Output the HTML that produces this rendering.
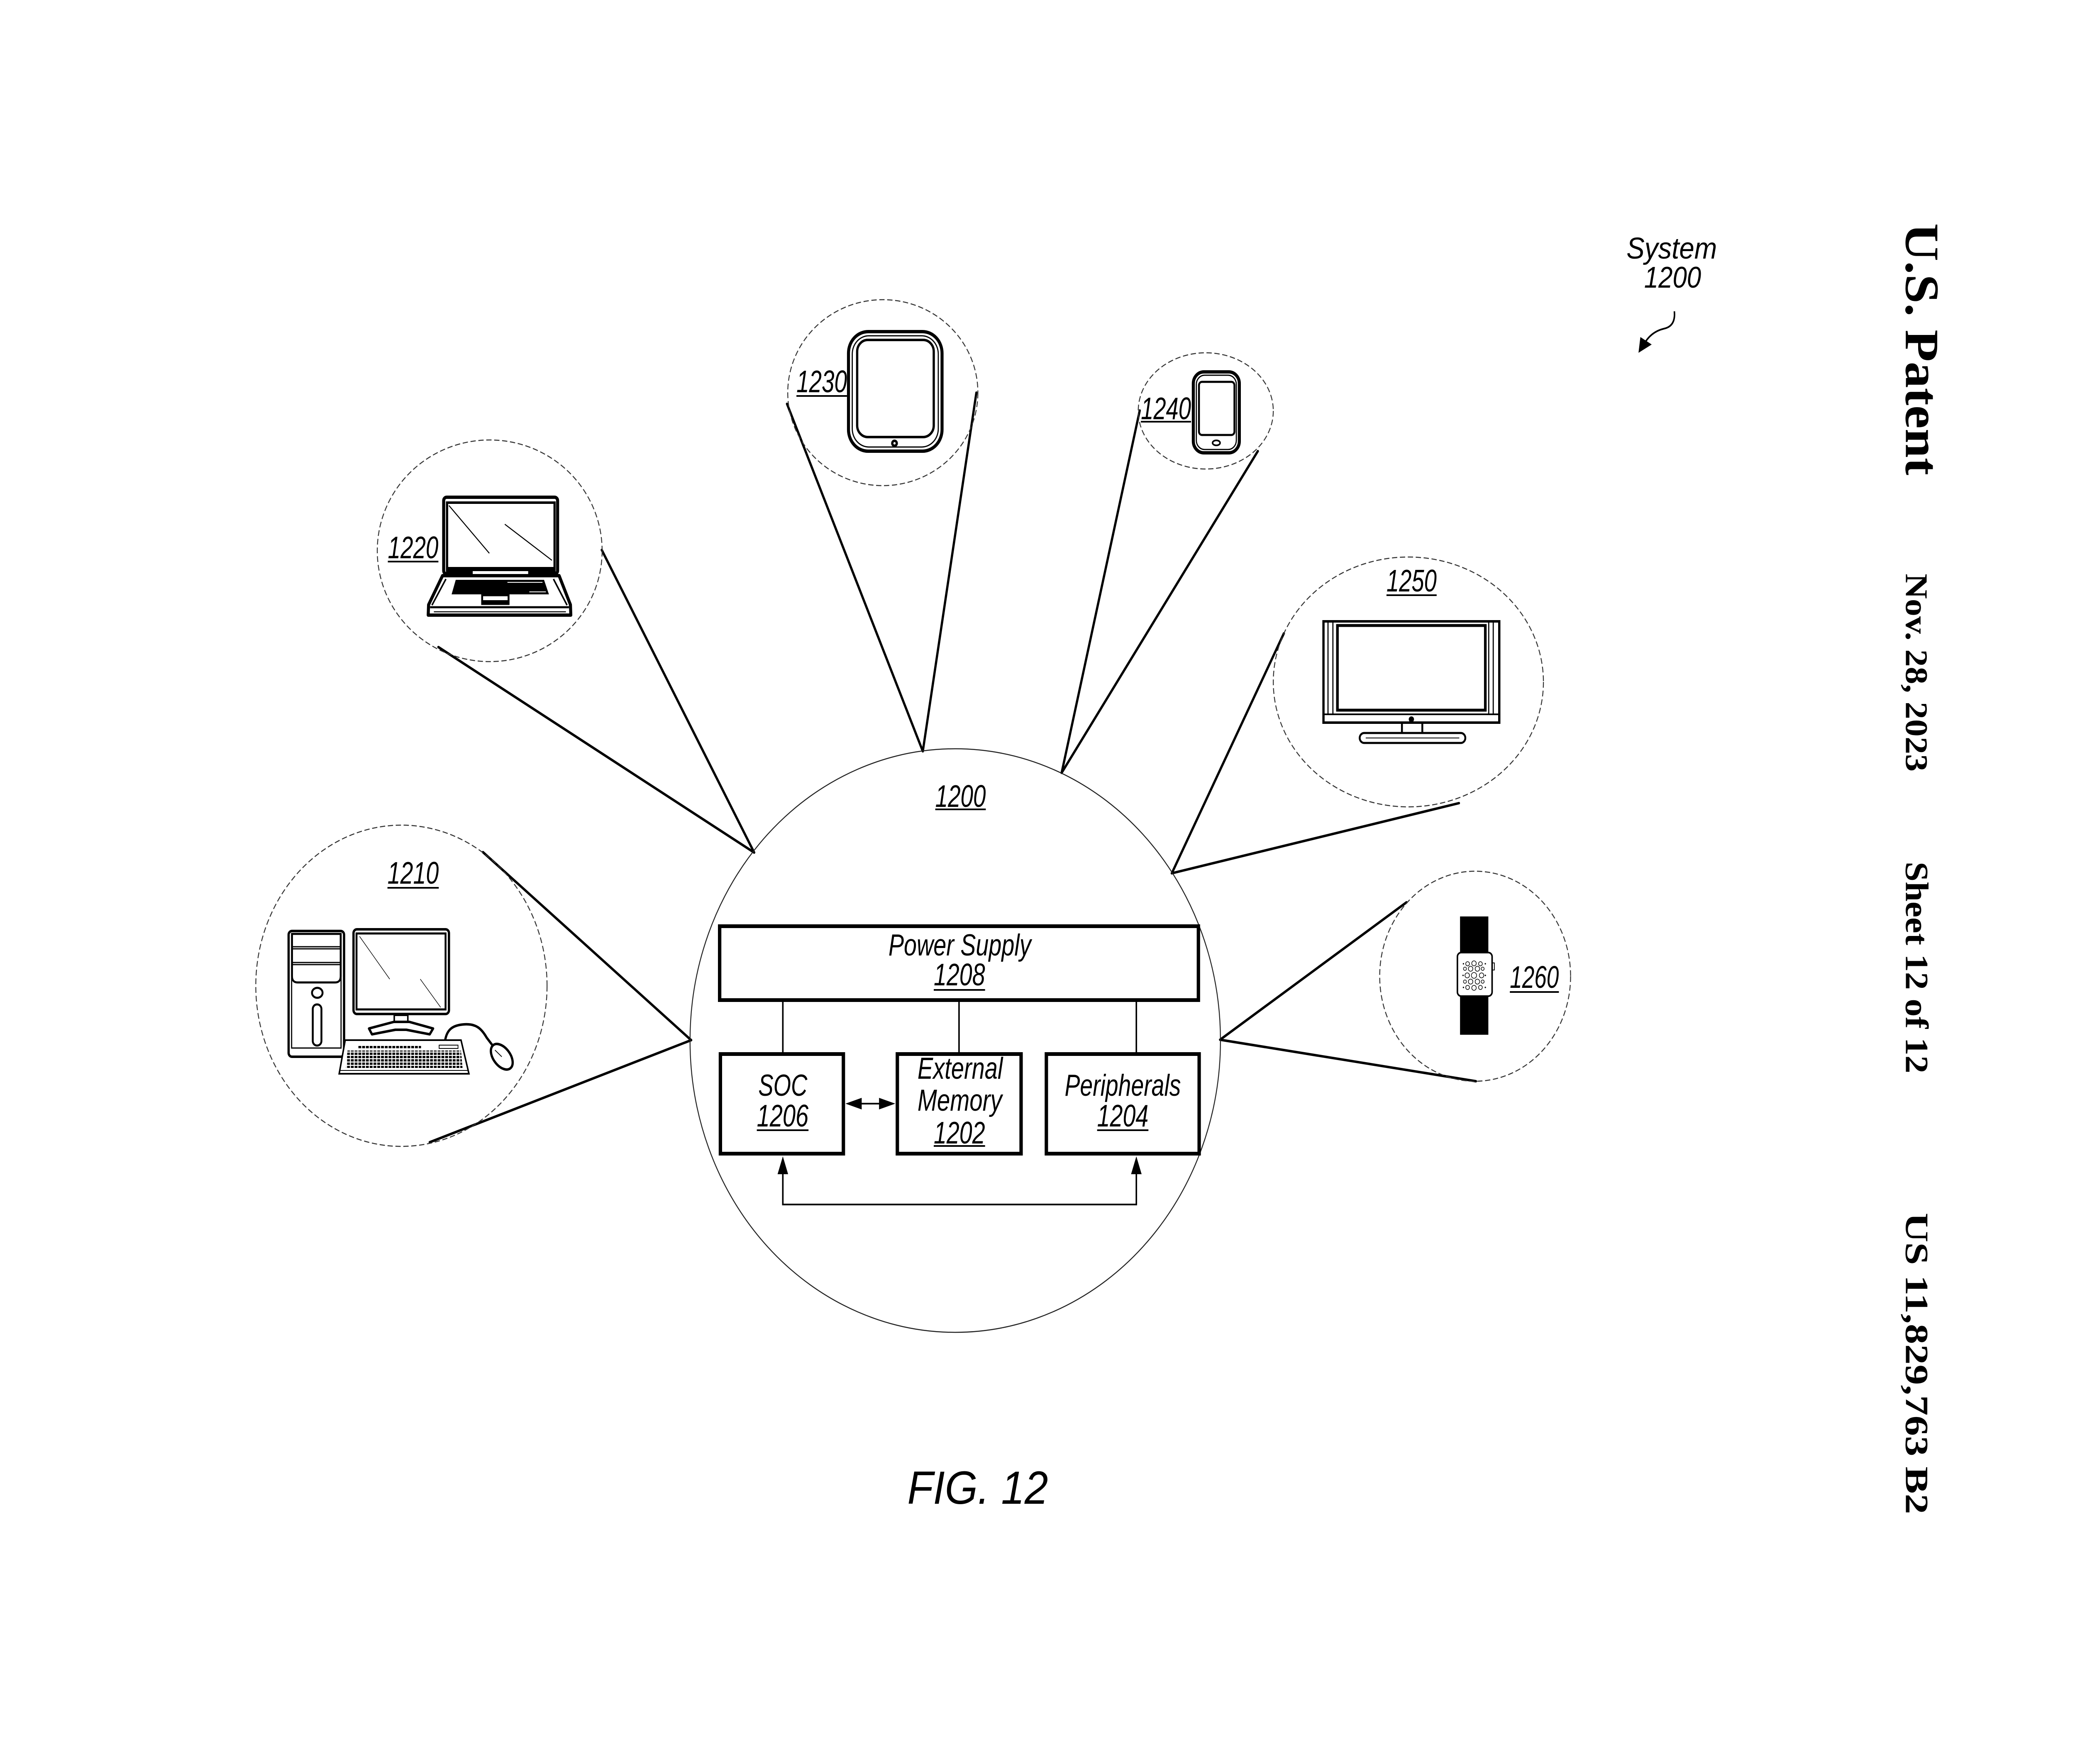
<!DOCTYPE html>
<html><head><meta charset="utf-8"><style>
html,body{margin:0;padding:0;background:#fff;width:100%;height:100%;overflow:hidden;}
svg{display:block;position:fixed;left:0;top:0;width:100%;height:100%;}
.l{font-family:"Liberation Sans",Arial,sans-serif;font-style:italic;fill:#000;}
.h{font-family:"Liberation Serif","Times New Roman",serif;font-weight:bold;fill:#000;}
</style></head><body>
<svg viewBox="0 0 5500 4250" preserveAspectRatio="none" xmlns="http://www.w3.org/2000/svg">
<defs>
<pattern id="keys" patternUnits="userSpaceOnUse" x="0" y="0" width="10" height="8">
<rect x="0" y="0" width="7.5" height="5.5" fill="#000"/>
</pattern>
</defs>
<rect width="5500" height="4250" fill="#fff"/>

<!-- Patent header (rotated) -->
<text class="h" font-size="127" transform="translate(5052,538) rotate(90)" textLength="607" lengthAdjust="spacingAndGlyphs">U.S. Patent</text>
<text class="h" font-size="84" transform="translate(5052,1382) rotate(90)" textLength="477" lengthAdjust="spacingAndGlyphs">Nov. 28, 2023</text>
<text class="h" font-size="86" transform="translate(5052,2076) rotate(90)" textLength="510" lengthAdjust="spacingAndGlyphs">Sheet 12 of 12</text>
<text class="h" font-size="86" transform="translate(5052,2922) rotate(90)" textLength="726" lengthAdjust="spacingAndGlyphs">US 11,829,763 B2</text>

<!-- System 1200 label -->
<text class="l" font-size="72" x="4311" y="623" textLength="240" lengthAdjust="spacingAndGlyphs">System</text>
<text class="l" font-size="72" x="4358" y="693" textLength="151" lengthAdjust="spacingAndGlyphs">1200</text>
<path d="M4438,750 Q4442,786 4410,792 Q4374,800 4356,832" fill="none" stroke="#000" stroke-width="4"/>
<polygon points="4343,850 4348,812 4378,830" fill="#000"/>

<!-- connector lines -->
<g stroke="#000" stroke-width="6" stroke-linecap="round">
<line x1="1280" y1="2053" x2="1832" y2="2506"/>
<line x1="1139" y1="2752" x2="1832" y2="2506"/>
<line x1="1595" y1="1325" x2="1999" y2="2054"/>
<line x1="1162" y1="1559" x2="1999" y2="2054"/>
<line x1="2086" y1="973" x2="2446" y2="1810"/>
<line x1="2588" y1="946" x2="2446" y2="1810"/>
<line x1="3021" y1="989" x2="2814" y2="1862"/>
<line x1="3334" y1="1087" x2="2814" y2="1862"/>
<line x1="3403" y1="1526" x2="3106" y2="2104"/>
<line x1="3867" y1="1935" x2="3106" y2="2104"/>
<line x1="3728" y1="2174" x2="3234" y2="2505"/>
<line x1="3912" y1="2605" x2="3234" y2="2505"/>
</g>

<!-- dashed device circles -->
<g fill="none" stroke="#333" stroke-width="2.5" stroke-dasharray="14 7">
<ellipse cx="1064" cy="2375" rx="386" ry="387"/>
<ellipse cx="1298" cy="1327" rx="298" ry="267"/>
<ellipse cx="2340" cy="946" rx="252" ry="224"/>
<ellipse cx="3196" cy="990" rx="179" ry="140"/>
<ellipse cx="3733" cy="1643" rx="358" ry="301"/>
<ellipse cx="3910" cy="2352" rx="253" ry="253"/>
</g>

<!-- central circle -->
<circle cx="2532" cy="2507" r="703" fill="none" stroke="#222" stroke-width="2.5"/>

<!-- central labels -->
<text class="l" font-size="75" x="2479" y="1944" textLength="134" lengthAdjust="spacingAndGlyphs">1200</text>
<line x1="2479" y1="1950" x2="2613" y2="1950" stroke="#000" stroke-width="4"/>

<!-- Power supply -->
<rect x="1907.5" y="2231.5" width="1269" height="178" fill="none" stroke="#000" stroke-width="9"/>
<text class="l" font-size="73" x="2355" y="2302" textLength="378" lengthAdjust="spacingAndGlyphs">Power Supply</text>
<text class="l" font-size="75" x="2475" y="2374" textLength="136" lengthAdjust="spacingAndGlyphs">1208</text>
<line x1="2475" y1="2385" x2="2611" y2="2385" stroke="#000" stroke-width="4"/>

<!-- vertical connectors -->
<g stroke="#000" stroke-width="4">
<line x1="2075" y1="2414" x2="2075" y2="2535"/>
<line x1="2542" y1="2414" x2="2542" y2="2535"/>
<line x1="3012" y1="2414" x2="3012" y2="2535"/>
</g>

<!-- boxes -->
<g fill="none" stroke="#000" stroke-width="9">
<rect x="1909.5" y="2539.5" width="326" height="240"/>
<rect x="2378.5" y="2539.5" width="328" height="240"/>
<rect x="2773.5" y="2539.5" width="405" height="240"/>
</g>
<text class="l" font-size="73" x="2010" y="2640" textLength="130" lengthAdjust="spacingAndGlyphs">SOC</text>
<text class="l" font-size="75" x="2006" y="2714" textLength="137" lengthAdjust="spacingAndGlyphs">1206</text>
<line x1="2006" y1="2723" x2="2143" y2="2723" stroke="#000" stroke-width="4"/>
<text class="l" font-size="73" x="2432" y="2599" textLength="226" lengthAdjust="spacingAndGlyphs">External</text>
<text class="l" font-size="73" x="2432" y="2676" textLength="224" lengthAdjust="spacingAndGlyphs">Memory</text>
<text class="l" font-size="75" x="2475" y="2755" textLength="136" lengthAdjust="spacingAndGlyphs">1202</text>
<line x1="2475" y1="2761" x2="2611" y2="2761" stroke="#000" stroke-width="4"/>
<text class="l" font-size="73" x="2822" y="2640" textLength="308" lengthAdjust="spacingAndGlyphs">Peripherals</text>
<text class="l" font-size="75" x="2908" y="2714" textLength="136" lengthAdjust="spacingAndGlyphs">1204</text>
<line x1="2908" y1="2723" x2="3044" y2="2723" stroke="#000" stroke-width="4"/>

<!-- double arrow SOC <-> memory -->
<line x1="2270" y1="2659" x2="2345" y2="2659" stroke="#000" stroke-width="4"/>
<polygon points="2241,2659 2284,2645 2284,2673" fill="#000"/>
<polygon points="2373,2659 2330,2645 2330,2673" fill="#000"/>

<!-- bottom bus -->
<path d="M2075,2825 V2902 H3012 V2825" fill="none" stroke="#000" stroke-width="4"/>
<polygon points="2075,2786 2061,2829 2089,2829" fill="#000"/>
<polygon points="3012,2786 2998,2829 3026,2829" fill="#000"/>

<!-- device labels -->
<g>
<text class="l" font-size="75" x="1027" y="2129" textLength="136" lengthAdjust="spacingAndGlyphs">1210</text>
<line x1="1027" y1="2139" x2="1163" y2="2139" stroke="#000" stroke-width="4"/>
<text class="l" font-size="75" x="1028" y="1345" textLength="134" lengthAdjust="spacingAndGlyphs">1220</text>
<line x1="1028" y1="1353" x2="1162" y2="1353" stroke="#000" stroke-width="4"/>
<text class="l" font-size="75" x="2111" y="945" textLength="134" lengthAdjust="spacingAndGlyphs">1230</text>
<line x1="2111" y1="954" x2="2245" y2="954" stroke="#000" stroke-width="4"/>
<text class="l" font-size="75" x="3024" y="1010" textLength="133" lengthAdjust="spacingAndGlyphs">1240</text>
<line x1="3024" y1="1016" x2="3157" y2="1016" stroke="#000" stroke-width="4"/>
<text class="l" font-size="75" x="3675" y="1425" textLength="133" lengthAdjust="spacingAndGlyphs">1250</text>
<line x1="3675" y1="1434" x2="3808" y2="1434" stroke="#000" stroke-width="4"/>
<text class="l" font-size="75" x="4002" y="2380" textLength="130" lengthAdjust="spacingAndGlyphs">1260</text>
<line x1="4002" y1="2390" x2="4132" y2="2390" stroke="#000" stroke-width="4"/>
</g>

<!-- ===== Desktop 1210 ===== -->
<g fill="none" stroke="#000">
<rect x="765" y="2243" width="147" height="303" rx="9" stroke-width="6" fill="#fff"/>
<rect x="773" y="2250" width="131" height="275" stroke-width="3"/>
<path d="M774,2250 H903 V2352 Q903,2367 888,2367 H789 Q774,2367 774,2352 Z" stroke-width="5"/>
<line x1="774" y1="2281" x2="903" y2="2281" stroke-width="3"/>
<line x1="774" y1="2286" x2="903" y2="2286" stroke-width="3"/>
<line x1="774" y1="2319" x2="903" y2="2319" stroke-width="3"/>
<line x1="774" y1="2324" x2="903" y2="2324" stroke-width="3"/>
<ellipse cx="841" cy="2392" rx="14" ry="12" stroke-width="5"/>
<rect x="829" y="2420" width="23" height="99" rx="11" stroke-width="5"/>
<!-- monitor -->
<rect x="937" y="2239" width="253" height="204" rx="9" stroke-width="6" fill="#fff"/>
<rect x="945" y="2249" width="236" height="183" stroke-width="5"/>
<line x1="953" y1="2256" x2="1033" y2="2359" stroke-width="1.5"/>
<line x1="1114" y1="2359" x2="1168" y2="2427" stroke-width="1.5"/>
<rect x="1045" y="2446" width="36" height="20" stroke-width="4"/>
<polygon points="1044,2462 978,2478 986,2492 1048,2481 1077,2481 1139,2492 1148,2478 1085,2462" stroke-width="6" fill="#fff" stroke-linejoin="round"/>
<!-- keyboard -->
<polygon points="915,2506 1222,2506 1243,2587 899,2587" stroke-width="4" fill="#fff"/>
<line x1="901" y1="2579" x2="1241" y2="2579" stroke-width="2"/>
<rect x="948" y="2518" width="168" height="9" fill="url(#keys)" stroke="none"/>
<rect x="1164" y="2518" width="50" height="8" stroke-width="2"/>
<polygon points="921,2531 1222,2531 1226,2573 917,2573" fill="url(#keys)" stroke="none"/>
<!-- mouse -->
<path d="M1180,2506 C1185,2480 1200,2470 1230,2468 C1262,2466 1276,2478 1290,2500 L1305,2518" stroke-width="6"/>
<ellipse cx="1330" cy="2546" rx="22" ry="36" transform="rotate(-41 1330 2546)" stroke-width="6" fill="#fff"/>
<line x1="1312" y1="2530" x2="1330" y2="2546" stroke-width="2"/>
</g>

<!-- ===== Laptop 1220 ===== -->
<g fill="none" stroke="#000">
<rect x="1176" y="1198" width="302" height="185" rx="8" stroke-width="8" fill="#fff"/>
<rect x="1185" y="1211" width="285" height="158" stroke-width="6"/>
<line x1="1190" y1="1218" x2="1297" y2="1333" stroke-width="2.5"/>
<line x1="1338" y1="1263" x2="1463" y2="1350" stroke-width="2.5"/>
<rect x="1182" y="1371" width="291" height="15" fill="#000" stroke="none"/>
<rect x="1253" y="1376" width="147" height="7" fill="#fff" stroke="none"/>
<polygon points="1173,1387 1482,1387 1512,1457 1513,1482 1135,1482 1136,1457" stroke-width="8" fill="#fff" stroke-linejoin="round"/>
<line x1="1182" y1="1395" x2="1145" y2="1458" stroke-width="4"/>
<line x1="1467" y1="1395" x2="1503" y2="1458" stroke-width="4"/>
<line x1="1140" y1="1463" x2="1508" y2="1463" stroke-width="5"/>
<line x1="1150" y1="1474" x2="1500" y2="1474" stroke-width="2.5"/>
<polygon points="1208,1397 1442,1397 1455,1432 1197,1432" fill="#000" stroke="none"/>
<line x1="1345" y1="1403" x2="1438" y2="1403" stroke="#fff" stroke-width="2"/>
<line x1="1403" y1="1426" x2="1447" y2="1426" stroke="#fff" stroke-width="2"/>
<rect x="1278" y="1434" width="70" height="21" stroke-width="5" fill="#fff"/>
<rect x="1280" y="1446" width="66" height="8" fill="#000" stroke="none"/>
</g>

<!-- ===== Tablet 1230 ===== -->
<g fill="none" stroke="#000">
<rect x="2249" y="799" width="248" height="288" rx="52" stroke-width="8" fill="#fff"/>
<rect x="2259" y="809" width="228" height="268" rx="44" stroke-width="3"/>
<rect x="2272" y="819" width="203" height="234" rx="28" stroke-width="6"/>
<circle cx="2371" cy="1068" r="9" fill="#000" stroke="none"/>
<circle cx="2371" cy="1068" r="3" fill="#fff" stroke="none"/>
</g>

<!-- ===== Phone 1240 ===== -->
<g fill="none" stroke="#000">
<rect x="3163" y="896" width="122" height="195" rx="28" stroke-width="8" fill="#fff"/>
<rect x="3171" y="904" width="106" height="179" rx="22" stroke-width="3"/>
<rect x="3178" y="920" width="94" height="128" rx="8" stroke-width="5"/>
<ellipse cx="3224" cy="1067" rx="10" ry="6" stroke-width="4"/>
</g>

<!-- ===== TV 1250 ===== -->
<g fill="none" stroke="#000">
<rect x="3508" y="1497" width="466" height="244" stroke-width="6" fill="#fff"/>
<line x1="3520" y1="1497" x2="3520" y2="1720" stroke-width="3"/>
<line x1="3533" y1="1497" x2="3533" y2="1720" stroke-width="3"/>
<line x1="3958" y1="1497" x2="3958" y2="1720" stroke-width="3"/>
<line x1="3946" y1="1497" x2="3946" y2="1720" stroke-width="3"/>
<rect x="3545" y="1507" width="392" height="204" stroke-width="7"/>
<line x1="3508" y1="1721" x2="3974" y2="1721" stroke-width="4"/>
<circle cx="3741" cy="1733" r="7" fill="#000" stroke="none"/>
<line x1="3716" y1="1744" x2="3716" y2="1767" stroke-width="5"/>
<line x1="3770" y1="1744" x2="3770" y2="1767" stroke-width="5"/>
<rect x="3604" y="1766" width="280" height="24" rx="12" stroke-width="5" fill="#fff"/>
<line x1="3620" y1="1778" x2="3868" y2="1778" stroke-width="2"/>
</g>

<!-- ===== Watch 1260 ===== -->
<g>
<rect x="3870" y="2208" width="75" height="90" fill="#000"/>
<rect x="3870" y="2400" width="75" height="93" fill="#000"/>
<rect x="3863" y="2295" width="92" height="105" rx="10" fill="#fff" stroke="#000" stroke-width="4"/>
<rect x="3956" y="2320" width="5" height="17" fill="#fff" stroke="#000" stroke-width="2"/>
<g fill="none" stroke="#000" stroke-width="1.6">
<circle cx="3890" cy="2322" r="5"/><circle cx="3907" cy="2321" r="6"/><circle cx="3924" cy="2322" r="5"/>
<circle cx="3883" cy="2334" r="4"/><circle cx="3898" cy="2334" r="6"/><circle cx="3916" cy="2334" r="6"/><circle cx="3930" cy="2334" r="4"/>
<circle cx="3889" cy="2350" r="6"/><circle cx="3907" cy="2350" r="7"/><circle cx="3927" cy="2350" r="6"/>
<circle cx="3883" cy="2365" r="4"/><circle cx="3898" cy="2365" r="6"/><circle cx="3916" cy="2365" r="6"/><circle cx="3930" cy="2365" r="4"/>
<circle cx="3890" cy="2379" r="5"/><circle cx="3907" cy="2380" r="6"/><circle cx="3924" cy="2379" r="5"/>
</g>
<g fill="#000">
<circle cx="3879" cy="2322" r="1.8"/><circle cx="3937" cy="2322" r="1.8"/>
<circle cx="3878" cy="2350" r="1.8"/><circle cx="3937" cy="2350" r="1.8"/>
<circle cx="3879" cy="2379" r="1.8"/><circle cx="3937" cy="2379" r="1.8"/>
</g>
</g>

<!-- FIG. 12 -->
<text class="l" font-size="112" x="2405" y="3623" textLength="373" lengthAdjust="spacingAndGlyphs">FIG. 12</text>
</svg>
</body></html>
